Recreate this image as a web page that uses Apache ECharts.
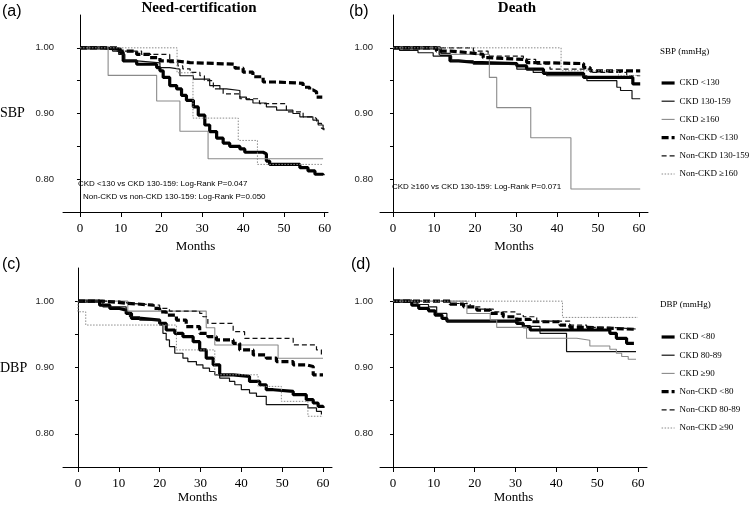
<!DOCTYPE html>
<html>
<head>
<meta charset="utf-8">
<script src="https://cdn.jsdelivr.net/npm/echarts@6/dist/echarts.min.js"></script>
<style>
  html, body { margin: 0; padding: 0; background: #fff; }
  #chart { width: 750px; height: 505px; }
</style>
</head>
<body>
<div id="chart"></div>
<script>
// tick values
const monthTicks = [0, 10, 20, 30, 40, 50, 60];
const survTicks = [0.8, 0.85, 0.9, 0.95, 1.0];
const survLabels = [0.8, 0.9, 1.0];

const sbpGroups = ['CKD <130', 'CKD 130-159', 'CKD ≥160', 'Non-CKD <130', 'Non-CKD 130-159', 'Non-CKD ≥160'];
const dbpGroups = ['CKD <80', 'CKD 80-89', 'CKD ≥90', 'Non-CKD <80', 'Non-CKD 80-89', 'Non-CKD ≥90'];

// (a) need-certification, SBP  [month, survival]
const certSbpCkd130 = [[0,1],[5.7,0.998],[9.8,0.993],[10.6,0.98],[13.9,0.975],[18.8,0.97],[19.6,0.965],[20.4,0.955],[22,0.9425],[23.7,0.9375],[24.9,0.9275],[26.1,0.92],[27.8,0.91],[29,0.8975],[30.6,0.8825],[31.8,0.8725],[33.5,0.8625],[35.1,0.855],[36.7,0.85],[39.2,0.846],[40.4,0.841],[44.9,0.8385],[45.7,0.8275],[46.5,0.8225],[53.9,0.8175],[55.9,0.8125],[57.6,0.8075],[59.6,0.806]];
const certSbpCkd159 = [[0,1],[8,0.995],[9.5,0.99],[11,0.98],[14,0.977],[19.6,0.97],[22,0.9675],[24.5,0.9575],[27.8,0.9525],[31.8,0.9425],[34.3,0.9375],[35.9,0.935],[39.2,0.925],[40.8,0.921],[42.4,0.916],[45.7,0.91],[48.2,0.905],[52.2,0.9],[53.9,0.895],[57.1,0.89],[58.4,0.8825],[59.6,0.875]];
const certSbpCkd160 = [[0,1],[6.9,0.958],[18.8,0.919],[24.5,0.873],[31.4,0.831],[59.6,0.831]];
const certSbpNon130 = [[0,1],[9.8,0.995],[13.9,0.99],[17.1,0.985],[19.6,0.98],[23.7,0.9775],[27,0.975],[38,0.969],[40,0.963],[42.4,0.956],[44.9,0.948],[47.8,0.946],[54.7,0.94],[56.3,0.936],[57.1,0.933],[58,0.925],[59.4,0.925]];
const certSbpNon159 = [[0,1],[8.5,0.995],[15.1,0.99],[22,0.9775],[24,0.9725],[25.2,0.968],[27,0.9625],[29.4,0.9575],[30.5,0.95],[32.7,0.9375],[35.1,0.93],[39.2,0.9225],[44,0.915],[50.6,0.9025],[54.7,0.895],[57.1,0.8925],[58,0.885],[59.2,0.8775],[59.8,0.8725]];
const certSbpNon160 = [[0,1],[23.8,0.962],[27.7,0.893],[38.8,0.859],[43.5,0.8225],[59.6,0.8225]];

// (b) death, SBP
const deathSbpCkd130 = [[0,1],[11.5,0.99],[13.9,0.98],[16,0.978],[19.6,0.976],[30.2,0.9725],[32.6,0.9675],[36.7,0.961],[46.5,0.955],[58.5,0.945],[60.3,0.945]];
const deathSbpCkd159 = [[0,1],[1.6,0.996],[6.1,0.9925],[9.8,0.9875],[14.3,0.98],[19.6,0.975],[30.2,0.9675],[34.2,0.9625],[37.5,0.9575],[47.3,0.95],[54.6,0.94],[55.5,0.935],[58.3,0.9225],[60.3,0.9225]];
const deathSbpCkd160 = [[0,1],[11.5,0.99],[23.5,0.955],[25.3,0.909],[33.6,0.863],[43.4,0.785],[60.3,0.785]];
const deathSbpNon130 = [[0,1],[10.6,0.995],[14,0.9925],[18.7,0.99],[22,0.985],[23.5,0.982],[32.6,0.9775],[35,0.976],[46.5,0.97],[48.1,0.965],[60.3,0.965]];
const deathSbpNon159 = [[0,1],[19.6,0.995],[23.2,0.9875],[31.8,0.9825],[34.8,0.975],[38.3,0.9675],[48.1,0.9625],[57,0.9575],[60.3,0.9575]];
const deathSbpNon160 = [[0,1],[41,0.965],[55,0.958],[60.3,0.958]];

// (c) need-certification, DBP
const certDbpCkd80 = [[0,1],[5.3,0.994],[7.8,0.989],[10.2,0.9865],[11.8,0.9815],[13.1,0.974],[15.5,0.9715],[20,0.9665],[21.6,0.9565],[23.7,0.9515],[25.7,0.9465],[28.2,0.939],[29.8,0.9265],[31.4,0.914],[33.1,0.904],[34.7,0.889],[38,0.8865],[42,0.879],[44.5,0.874],[46.1,0.8665],[47.8,0.864],[52.7,0.859],[55.9,0.8515],[57.6,0.8465],[58.8,0.8415],[60,0.839]];
const certDbpCkd89 = [[0,1],[6.1,0.9915],[11.8,0.984],[12.6,0.9765],[15.1,0.9715],[20,0.964],[20.8,0.9515],[21.6,0.9415],[22.4,0.9315],[23.7,0.9215],[25.7,0.914],[26.9,0.909],[29,0.904],[30.6,0.899],[32.2,0.894],[33.5,0.889],[34.7,0.884],[37.1,0.879],[38.4,0.874],[40,0.8665],[42,0.8615],[43.7,0.8565],[46.1,0.844],[56.3,0.839],[58.4,0.834],[59.6,0.829]];
const certDbpCkd90 = [[0,1],[12.2,0.985],[31.4,0.96],[33.5,0.934],[49,0.914],[60,0.914]];
const certDbpNon80 = [[0,1],[6,0.997],[11.8,0.994],[18.4,0.989],[20,0.984],[21.6,0.979],[24.1,0.9715],[26.5,0.9615],[29.8,0.9515],[31.8,0.9465],[33.9,0.9415],[38,0.9365],[39.6,0.9265],[42.9,0.919],[46.1,0.914],[48.6,0.909],[52.7,0.904],[55.9,0.9015],[57.6,0.889],[60,0.889]];
const certDbpNon89 = [[0,1],[10.2,0.997],[12.2,0.994],[20,0.989],[22.4,0.985],[29.8,0.9815],[30.6,0.9765],[31.8,0.9665],[38,0.954],[40.8,0.944],[52.7,0.934],[58.4,0.9265],[59.6,0.919]];
const certDbpNon90 = [[0,1],[0,0.984],[1.9,0.964],[24.1,0.9265],[33.5,0.889],[44.1,0.8715],[49.8,0.849],[56.3,0.8265],[60,0.8265]];

// (d) death, DBP
const deathDbpCkd80 = [[0,1],[4.6,0.994],[6.3,0.989],[8.7,0.9855],[10.3,0.979],[12,0.974],[13.2,0.97],[30.3,0.9665],[31.9,0.9615],[33.6,0.9565],[53.1,0.9515],[54.7,0.944],[57.2,0.9365],[59,0.9365]];
const deathDbpCkd89 = [[0,1],[5.9,0.995],[8.7,0.9915],[10.7,0.9815],[13.2,0.97],[30,0.967],[32,0.962],[36,0.9515],[42.5,0.924],[59.5,0.924]];
const deathDbpCkd90 = [[0,1],[18.1,0.9815],[23.8,0.9715],[25.4,0.9605],[32.7,0.944],[45,0.941],[48.2,0.9325],[53.1,0.9275],[54.7,0.9215],[56,0.9165],[57.6,0.9125],[59.5,0.9125]];
const deathDbpNon80 = [[0,1],[14,0.9955],[17.3,0.9915],[20.5,0.9865],[23.8,0.9815],[27,0.9765],[30.3,0.9725],[33.6,0.969],[40.9,0.964],[43.3,0.9605],[47.4,0.9575],[59.5,0.9575]];
const deathDbpNon89 = [[0,1],[14,0.9965],[18.9,0.9915],[21.5,0.988],[24.6,0.984],[30.3,0.9805],[31.9,0.9765],[35.2,0.97],[43.3,0.964],[47.4,0.9605],[53.1,0.958],[59.5,0.958]];
const deathDbpNon90 = [[0,1],[41.5,0.9755],[60,0.9755]];

const serif = 'Liberation Serif';
const sans = 'Liberation Sans';

// one style per group, same order as group names
const groupStyles = [
    { color: '#000', width: 3.2, type: 'solid' },
    { color: '#111', width: 1.2, type: 'solid' },
    { color: '#8a8a8a', width: 1.1, type: 'solid' },
    { color: '#000', width: 3.2, type: [7, 3] },
    { color: '#111', width: 1.2, type: [5, 3] },
    { color: '#8a8a8a', width: 1, type: [1.5, 1.5] }
];

const panels = [
    { grid: { left: 63, top: 15, width: 265, height: 197 }, xMin: -4.16, xMax: 60.8, names: sbpGroups, labelGap: 9,
      curves: [certSbpCkd130, certSbpCkd159, certSbpCkd160, certSbpNon130, certSbpNon159, certSbpNon160], nameGap: 28 },
    { grid: { left: 380, top: 15, width: 268, height: 197 }, xMin: -3.17, xMax: 62.2, names: sbpGroups, labelGap: 7,
      curves: [deathSbpCkd130, deathSbpCkd159, deathSbpCkd160, deathSbpNon130, deathSbpNon159, deathSbpNon160], nameGap: 28 },
    { grid: { left: 63, top: 268, width: 269, height: 200 }, xMin: -3.67, xMax: 62.2, names: dbpGroups, labelGap: 9,
      curves: [certDbpCkd80, certDbpCkd89, certDbpCkd90, certDbpNon80, certDbpNon89, certDbpNon90], nameGap: 24 },
    { grid: { left: 380, top: 268, width: 267, height: 200 }, xMin: -3.18, xMax: 62.2, names: dbpGroups, labelGap: 7,
      curves: [deathDbpCkd80, deathDbpCkd89, deathDbpCkd90, deathDbpNon80, deathDbpNon89, deathDbpNon90], nameGap: 24 }
];

const grids = [], xAxes = [], yAxes = [], series = [];

panels.forEach(function(p, i) {
    grids.push(p.grid);
    xAxes.push({
        type: 'value', gridIndex: i, min: p.xMin, max: p.xMax,
        name: 'Months', nameLocation: 'middle', nameGap: p.nameGap,
        nameTextStyle: { fontFamily: serif, fontSize: 13, color: '#000' },
        axisLine: { lineStyle: { color: '#000', width: 1 } },
        axisTick: { customValues: monthTicks, length: 5, lineStyle: { color: '#000' } },
        axisLabel: { customValues: monthTicks, margin: 10, fontFamily: serif, fontSize: 13, color: '#000' },
        splitLine: { show: false }
    });
    yAxes.push({
        type: 'value', gridIndex: i, min: 0.75, max: 1.05,
        axisLine: { show: true, lineStyle: { color: '#000', width: 1 } },
        axisTick: { show: true, customValues: survTicks, length: 3, lineStyle: { color: '#000' } },
        axisLabel: {
            customValues: survLabels, margin: p.labelGap, fontFamily: sans, fontSize: 9.5, color: '#222',
            formatter: function(v) { return v.toFixed(2); }
        },
        splitLine: { show: false }
    });
    p.curves.forEach(function(curve, k) {
        const st = groupStyles[k];
        series.push({
            name: p.names[k], type: 'line', step: 'end',
            xAxisIndex: i, yAxisIndex: i,
            data: curve, symbol: 'none', silent: true,
            lineStyle: { color: st.color, width: st.width, type: st.type },
            itemStyle: { color: st.color }
        });
    });
});

// legend shows only the line sample, no point symbol
function legendItems(names) {
    return names.map(function(n, k) {
        return {
            name: n,
            itemStyle: { opacity: 0, borderWidth: 0 },
            lineStyle: { width: groupStyles[k].width }
        };
    });
}

const legendBase = {
    orient: 'vertical', left: 660, itemWidth: 13, itemHeight: 10, itemGap: 6.2,
    padding: 0, selectedMode: false,
    textStyle: { fontFamily: serif, fontSize: 9, color: '#000', lineHeight: 12 }
};

function txt(x, y, text, font, size, weight, align) {
    return {
        type: 'text', x: x, y: y, silent: true,
        style: { text: text, fontFamily: font, fontSize: size, fontWeight: weight || 'normal',
                 fill: '#000', textAlign: align || 'left', textVerticalAlign: 'middle' }
    };
}

const option = {
    animation: false,
    grid: grids,
    xAxis: xAxes,
    yAxis: yAxes,
    legend: [
        Object.assign({}, legendBase, { top: 77, data: legendItems(sbpGroups) }),
        Object.assign({}, legendBase, { top: 331, data: legendItems(dbpGroups) })
    ],
    graphic: [
        txt(199, 8, 'Need-certification', serif, 15, 'bold', 'center'),
        txt(517, 8, 'Death', serif, 15, 'bold', 'center'),
        txt(2, 12, '(a)', sans, 16),
        txt(349, 12, '(b)', sans, 16),
        txt(2, 265, '(c)', sans, 16),
        txt(351, 265, '(d)', sans, 16),
        txt(0, 113, 'SBP', serif, 14),
        txt(0, 368, 'DBP', serif, 14),
        txt(78, 184, 'CKD <130 vs CKD 130-159: Log-Rank P=0.047', sans, 8),
        txt(83, 197, 'Non-CKD vs non-CKD 130-159: Log-Rank P=0.050', sans, 8),
        txt(392, 187, 'CKD ≥160 vs CKD 130-159: Log-Rank P=0.071', sans, 8),
        txt(660, 52, 'SBP (mmHg)', serif, 9),
        txt(660, 305, 'DBP (mmHg)', serif, 9)
    ],
    series: series
};

const chart = echarts.init(document.getElementById('chart'));
chart.setOption(option);
</script>
</body>
</html>
